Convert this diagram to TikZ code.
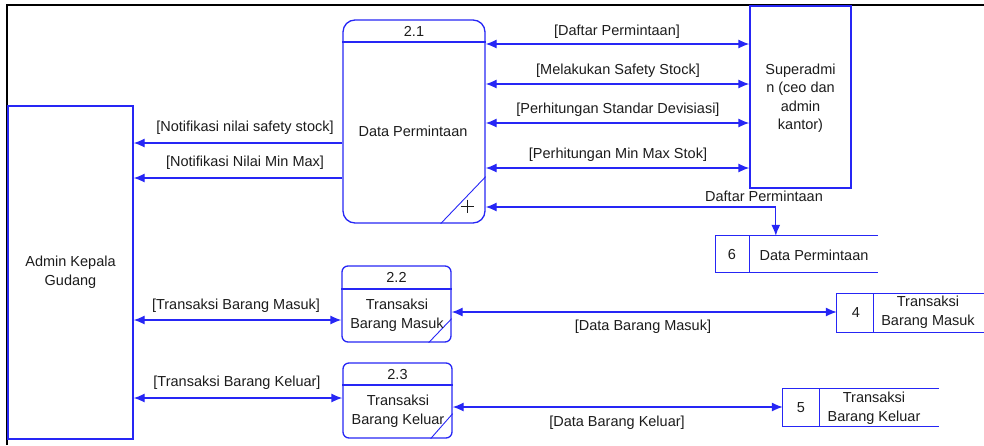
\documentclass[tikz,border=0pt]{standalone}
\usepackage{fontspec}
\setmainfont{Liberation Sans}
\usetikzlibrary{arrows.meta,calc}
\definecolor{flow}{RGB}{38,38,245}
\definecolor{ink}{RGB}{28,28,28}

\begin{document}
\begin{tikzpicture}[x=1pt,y=-1pt,
  every node/.style={font=\fontsize{14.5}{18.5}\selectfont, text=ink, inner sep=0pt},
  outline/.style={draw=flow, line width=1.3pt},
  entitybox/.style={outline, rectangle},
  procbox/.style={outline, rectangle, rounded corners=#1},
  storebox/.style={rectangle},
  flowline/.style={draw=flow, line width=1.3pt, >={Latex[length=11pt,width=9pt]}},
  lbl/.style={align=center}
]
\useasboundingbox (0,0) rectangle (984,445);

% page frame
\draw[black, line width=1.4pt] (7,445) -- (7,5) -- (984,5);

% external entities
\node[entitybox, minimum width=125pt, minimum height=333pt] (adm) at (70.5,272.5) {};
\node[lbl] (admtext) at (70.5,272) {Admin Kepala\\Gudang};
\node[entitybox, minimum width=101pt, minimum height=182pt] (sa) at (800.5,97) {};
\node[lbl] (satext) at (800.5,98) {Superadmi\\n (ceo dan\\admin\\kantor)};

% process 2.1
\node[procbox=12pt, minimum width=142pt, minimum height=203pt] (p21) at (414,121.5) {};
\draw[outline] (p21.west |- 0,42) -- (p21.east |- 0,42);
\draw[outline, line width=0.9pt] ($(p21.south east)+(-45,0)$) -- ($(p21.south east)+(0,-47)$);
\node (p21id) at (414,31) {2.1};
\node (p21name) at (413,131) {Data Permintaan};
% expansion mark of the process
\coordinate (pluscentre) at (467,206);
\draw[ink, line width=0.8pt] ($(pluscentre)+(-6.5,0)$) -- ($(pluscentre)+(6.5,0)$)
  ($(pluscentre)+(0,-6.5)$) -- ($(pluscentre)+(0,6.5)$);

% process 2.2
\node[procbox=6pt, minimum width=109pt, minimum height=76pt] (p22) at (396.5,304) {};
\draw[outline] (p22.west |- 0,289) -- (p22.east |- 0,289);
\draw[outline, line width=0.9pt] ($(p22.south east)+(-23,0)$) -- ($(p22.south east)+(0,-24)$);
\node (p22id) at (396.5,277) {2.2};
\node[lbl] (p22name) at (397,315) {Transaksi\\Barang Masuk};

% process 2.3
\node[procbox=6pt, minimum width=109pt, minimum height=75pt] (p23) at (397.5,400.5) {};
\draw[outline] (p23.west |- 0,385) -- (p23.east |- 0,385);
\draw[outline, line width=0.9pt] ($(p23.south east)+(-22,0)$) -- ($(p23.south east)+(0,-25)$);
\node (p23id) at (397.5,374) {2.3};
\node[lbl] (p23name) at (398,411) {Transaksi\\Barang Keluar};

% data stores (open at the right)
\node[storebox, minimum width=162pt, minimum height=36pt] (s6) at (797,254) {};
\draw[outline] (s6.north east) -- (s6.north west) -- (s6.south west) -- (s6.south east);
\draw[outline] ($(s6.north west)+(34,0)$) -- ($(s6.south west)+(34,0)$);
\node (s6id) at (732,255) {6};
\node (s6name) at (814,255) {Data Permintaan};

\node[storebox, minimum width=147pt, minimum height=38pt] (s4) at (910.5,313) {};
\draw[outline] (s4.north east) -- (s4.north west) -- (s4.south west) -- (s4.south east);
\draw[outline] ($(s4.north west)+(37,0)$) -- ($(s4.south west)+(37,0)$);
\node (s4id) at (856,313) {4};
\node[lbl] (s4name) at (928,312) {Transaksi\\Barang Masuk};

\node[storebox, minimum width=156pt, minimum height=37pt] (s5) at (861,407.5) {};
\draw[outline] (s5.north east) -- (s5.north west) -- (s5.south west) -- (s5.south east);
\draw[outline] ($(s5.north west)+(37,0)$) -- ($(s5.south west)+(37,0)$);
\node (s5id) at (801,408) {5};
\node[lbl] (s5name) at (874,408) {Transaksi\\Barang Keluar};

% flows between 2.1 and the superadmin
\draw[flowline, <->] (p21.east |- 0,44) -- (sa.west |- 0,44);
\draw[flowline, <->] (p21.east |- 0,84) -- (sa.west |- 0,84);
\draw[flowline, <->] (p21.east |- 0,123) -- (sa.west |- 0,123);
\draw[flowline, <->] (p21.east |- 0,168) -- (sa.west |- 0,168);
\node (f1) at (617,32) {[Daftar Permintaan]};
\node (f2) at (618,71) {[Melakukan Safety Stock]};
\node (f3) at (618,110) {[Perhitungan Standar Devisiasi]};
\node (f4) at (618,155) {[Perhitungan Min Max Stok]};

% flow between 2.1 and data store 6
\draw[flowline, <->] (p21.east |- 0,207) -| ($(s6.north west)+(60,0)$);
\node (f5) at (764,196) {Daftar Permintaan};

% flows from 2.1 to the admin
\draw[flowline, ->] (p21.west |- 0,143) -- (adm.east |- 0,143);
\draw[flowline, ->] (p21.west |- 0,178) -- (adm.east |- 0,178);
\node (f6) at (245,128) {[Notifikasi nilai safety stock]};
\node (f7) at (245,163) {[Notifikasi Nilai Min Max]};

% flows between the admin and 2.2 / 2.3
\draw[flowline, <->] (adm.east |- 0,320) -- (p22.west |- 0,320);
\draw[flowline, <->] (adm.east |- 0,398) -- (p23.west |- 0,398);
\node (f8) at (236,306) {[Transaksi Barang Masuk]};
\node (f9) at (237,383) {[Transaksi Barang Keluar]};

% flows to the transaction stores
\draw[flowline, <->] (p22.east |- 0,312) -- (s4.west |- 0,312);
\draw[flowline, <->] (p23.east |- 0,407) -- (s5.west |- 0,407);
\node (f10) at (643,327) {[Data Barang Masuk]};
\node (f11) at (617,423) {[Data Barang Keluar]};
\end{tikzpicture}
\end{document}
